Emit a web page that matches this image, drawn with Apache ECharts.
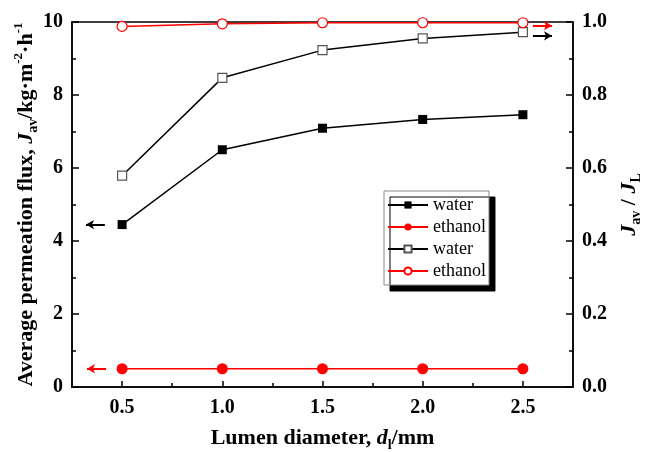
<!DOCTYPE html>
<html>
<head>
<meta charset="utf-8">
<title>Average permeation flux vs lumen diameter</title>
<script src="https://cdn.jsdelivr.net/npm/echarts@6/dist/echarts.min.js"></script>
<style>
  html, body { margin: 0; padding: 0; background: #fff; }
  #chart { width: 645px; height: 452px; }
</style>
</head>
<body>
<div id="chart"></div>
<script>
// values
const diameters = [0.5, 1.0, 1.5, 2.0, 2.5];
const waterFlux = [4.45, 6.5, 7.09, 7.33, 7.46];
const ethanolFlux = [0.5, 0.5, 0.5, 0.5, 0.5];
const waterRatio = [0.579, 0.847, 0.923, 0.955, 0.972];
const ethanolRatio = [0.988, 0.995, 0.998, 0.998, 0.998];
const xTicks = [0.5, 1.0, 1.5, 2.0, 2.5];
const xMinorTicks = [0.75, 1.25, 1.75, 2.25];
const legendNames = ["water", "ethanol", "water", "ethanol"];

const serif = "'Liberation Serif', 'Times New Roman', serif";
const pairs = (ys) => diameters.map((x, i) => [x, ys[i]]);

const richTitle = {
  b: { fontSize: 22, fontWeight: "bold", fontFamily: serif, color: "#000", lineHeight: 28 },
  i: { fontSize: 22, fontWeight: "bold", fontStyle: "italic", fontFamily: serif, color: "#000", lineHeight: 28 },
  s: { fontSize: 14, fontWeight: "bold", fontFamily: serif, color: "#000", verticalAlign: "bottom", lineHeight: 14 },
  p: { fontSize: 13, fontWeight: "bold", fontFamily: serif, color: "#000", verticalAlign: "top", lineHeight: 13 }
};

const tickLabel = { color: "#000", fontSize: 20, fontWeight: "bold", fontFamily: serif };

// 箭头标注（指向对应坐标轴）
function arrow(x1, x2, y, color) {
  return {
    silent: true,
    symbol: ["none", "arrow"],
    symbolSize: [7, 8],
    label: { show: false },
    lineStyle: { color: color, width: 2, type: "solid" },
    animation: false,
    data: [[{ coord: [x1, y] }, { coord: [x2, y] }]]
  };
}

let option = {
  animation: false,
  grid: {
    left: 72, right: 72, top: 22, bottom: 65,
    outerBoundsMode: "none",
    show: true, borderColor: "#000", borderWidth: 1.5, backgroundColor: "transparent"
  },
  legend: {
    orient: "vertical",
    left: 384, top: 191,
    itemWidth: 40, itemHeight: 9, itemGap: 4,
    padding: [5, 3, 5, 3],
    backgroundColor: "#fff",
    borderColor: "#888", borderWidth: 1,
    shadowColor: "#000", shadowBlur: 0, shadowOffsetX: 6, shadowOffsetY: 6,
    textStyle: { fontFamily: serif, fontSize: 18, color: "#000" },
    data: ["wf", "ef", "wr", "er"],
    formatter: (n) => legendNames[["wf", "ef", "wr", "er"].indexOf(n)]
  },
  xAxis: [
    {
      type: "value", min: 0.25, max: 2.75, position: "bottom",
      name: "{b|Lumen diameter, }{i|d}{s|l}{b|/mm}",
      nameLocation: "middle", nameGap: 37,
      nameTextStyle: { rich: richTitle },
      axisLine: { show: true, lineStyle: { color: "#000", width: 1.5 } },
      axisTick: { show: true, inside: true, length: 6, customValues: xTicks, lineStyle: { color: "#000", width: 1.5 } },
      axisLabel: { ...tickLabel, margin: 11, customValues: xTicks, formatter: (v) => v.toFixed(1) },
      splitLine: { show: false }
    },
    {
      type: "value", min: 0.25, max: 2.75, position: "bottom",
      axisLine: { show: false },
      axisTick: { show: true, inside: true, length: 4, customValues: xMinorTicks, lineStyle: { color: "#000", width: 1.5 } },
      axisLabel: { show: false },
      splitLine: { show: false }
    }
  ],
  yAxis: [
    {
      type: "value", min: 0, max: 10, interval: 2, position: "left",
      name: "{b|Average permeation flux, }{i|J}{s|av}{b|/kg·m}{p|-2}{b|·h}{p|-1}",
      nameLocation: "middle", nameGap: 32, nameMoveOverlap: false,
      nameTextStyle: { rich: richTitle },
      axisLine: { show: true, lineStyle: { color: "#000", width: 1.5 } },
      axisTick: { show: true, inside: true, length: 7, lineStyle: { color: "#000", width: 1.5 } },
      minorTick: { show: true, splitNumber: 2, length: 4, lineStyle: { color: "#000", width: 1.5 } },
      axisLabel: { ...tickLabel, margin: 9 },
      splitLine: { show: false }
    },
    {
      type: "value", min: 0, max: 1, interval: 0.2, position: "right",
      name: "{i|J}{s|av}{b| / }{i|J}{s|L}",
      nameLocation: "middle", nameGap: 40, nameRotate: 90,
      nameTextStyle: { rich: richTitle },
      axisLine: { show: true, lineStyle: { color: "#000", width: 1.5 } },
      axisTick: { show: true, inside: true, length: 7, lineStyle: { color: "#000", width: 1.5 } },
      minorTick: { show: true, splitNumber: 2, length: 4, lineStyle: { color: "#000", width: 1.5 } },
      axisLabel: { ...tickLabel, margin: 9, formatter: (v) => v.toFixed(1) },
      splitLine: { show: false }
    }
  ],
  series: [
    {
      name: "wf", type: "line", yAxisIndex: 0, data: pairs(waterFlux),
      symbol: "rect", symbolSize: 9,
      lineStyle: { color: "#000", width: 1.5 },
      itemStyle: { color: "#000" },
      markLine: arrow(0.414, 0.32, 4.45, "#000")
    },
    {
      name: "ef", type: "line", yAxisIndex: 0, data: pairs(ethanolFlux),
      symbol: "circle", symbolSize: 11,
      lineStyle: { color: "#ff0000", width: 1.5 },
      itemStyle: { color: "#ff0000" },
      markLine: arrow(0.42, 0.325, 0.5, "#ff0000")
    },
    {
      name: "wr", type: "line", yAxisIndex: 1, data: pairs(waterRatio),
      symbol: "rect", symbolSize: 9,
      lineStyle: { color: "#000", width: 1.5 },
      itemStyle: { color: "#fff", borderColor: "#555", borderWidth: 1.2 },
      markLine: arrow(2.55, 2.645, 0.962, "#000")
    },
    {
      name: "er", type: "line", yAxisIndex: 1, data: pairs(ethanolRatio),
      symbol: "circle", symbolSize: 10,
      lineStyle: { color: "#ff0000", width: 1.5 },
      itemStyle: { color: "#fff", borderColor: "#ff0000", borderWidth: 1.2 },
      markLine: arrow(2.55, 2.645, 0.99, "#ff0000")
    }
  ]
};

let chart = echarts.init(document.getElementById("chart"), null, { renderer: "canvas" });
chart.setOption(option);
</script>
</body>
</html>
